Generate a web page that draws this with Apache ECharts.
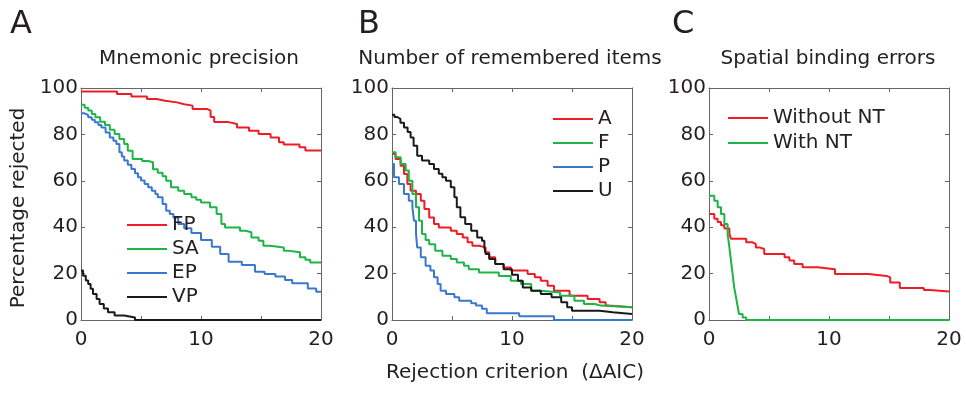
<!DOCTYPE html>
<html>
<head>
<meta charset="utf-8">
<script src="https://cdn.jsdelivr.net/npm/echarts@6/dist/echarts.min.js"></script>
<style>html,body{margin:0;padding:0;background:#fff}#c{width:966px;height:393px}</style>
</head>
<body>
<div id="c"></div>
<script>
// ---- Data (x = rejection criterion ΔAIC, y = percentage rejected) ----
const panelTitles = ["Mnemonic precision", "Number of remembered items", "Spatial binding errors"];
const panelLetters = ["A", "B", "C"];
const xTicks = [0, 10, 20];
const yTicks = [0, 20, 40, 60, 80, 100];

// Panel A
const FP_x = [0, 3.0, 4.2, 5.5, 6.3, 7.0, 8.0, 8.6, 9.3, 10.5, 10.8, 11.1, 12.3, 13.0, 14.0, 14.8, 15.8, 16.5, 16.9, 18.2, 18.7, 20];
const FP_y = [98.5, 97.4, 96.3, 95.3, 94.5, 93.8, 93, 92.4, 91, 90.2, 87.5, 85.3, 84.5, 83, 81.6, 80.2, 78.7, 76.6, 75.6, 74.5, 73.1, 73.1];
const SA_x = [0, 0.3, 0.6, 0.9, 1.2, 1.6, 2.0, 2.4, 2.8, 3.2, 3.6, 3.9, 4.3, 5.1, 5.6, 6.0, 6.4, 6.8, 7.1, 7.5, 8.1, 8.6, 9.2, 9.6, 10.0, 10.75, 11.3, 11.7, 12.0, 13.25, 13.7, 14.2, 14.8, 15.2, 15.75, 16.9, 17.2, 18.25, 18.7, 19.1, 20];
const SA_y = [92.8, 91.5, 90.3, 88.8, 87.4, 85.5, 84, 82, 80.2, 78, 75.9, 73, 69.4, 68.5, 68, 65, 63.5, 62, 60, 57.2, 55.7, 54.3, 52.9, 51.8, 50.7, 48.6, 45.7, 41.4, 39.9, 38.5, 37.8, 35.6, 34.2, 32, 31.3, 29.9, 29.2, 27, 26, 24.8, 24.8];
const EP_x = [0, 0.3, 0.6, 0.9, 1.15, 1.45, 1.7, 2.05, 2.4, 2.7, 2.95, 3.2, 3.4, 3.6, 3.9, 4.2, 4.5, 4.75, 5.0, 5.3, 5.6, 5.9, 6.2, 6.4, 6.8, 7.1, 7.4, 7.7, 8.1, 8.6, 9.2, 10.0, 10.9, 11.6, 12.3, 13.4, 14.5, 15.3, 16.2, 17.0, 17.6, 18.9, 19.6, 20];
const EP_y = [89.1, 88.3, 87.4, 86.3, 85.2, 84.1, 83, 80.8, 78.7, 77.3, 75.9, 72.3, 70.5, 68.7, 66.9, 65.1, 63.3, 61.5, 60.1, 58.6, 57.2, 55.7, 54.3, 52.9, 50, 47.1, 45.7, 44.2, 41.4, 39.5, 37.5, 34.5, 31.6, 28.5, 25.1, 23.7, 20.8, 19.8, 18.7, 17.2, 15.8, 13.6, 12.2, 12.2];
const VP_x = [0, 0.17, 0.4, 0.6, 0.8, 1.0, 1.3, 1.55, 1.9, 2.25, 2.8, 3.6, 4.5, 20];
const VP_y = [21.3, 19.1, 17, 15.5, 13.5, 11.2, 9, 6.9, 5, 3.3, 1.9, 1.1, 0, 0];

// Panel B
const A_x = [0, 0.3, 0.72, 1.0, 1.28, 1.55, 2.0, 2.4, 2.7, 3.1, 3.5, 3.9, 4.9, 5.4, 5.9, 6.3, 6.7, 7.25, 7.8, 8.1, 8.6, 9.3, 9.9, 11.3, 11.9, 12.4, 12.97, 13.5, 14.8, 16.3, 17.3, 17.8, 18.0, 20];
const A_y = [71.6, 69.4, 66.5, 62.9, 58.6, 55.7, 54.3, 51.4, 47.8, 44.2, 41.4, 39.9, 38.5, 37.1, 35.6, 33.5, 32.0, 31.3, 29.2, 27, 24.1, 22.6, 21.3, 19.8, 18.4, 16.9, 14.8, 12.6, 10.5, 9.0, 7.6, 6.2, 5.5, 5.5];
const F_x = [0, 0.3, 0.72, 1.14, 1.4, 1.7, 2.0, 2.25, 2.5, 2.8, 3.1, 3.6, 4.2, 4.9, 5.4, 6.0, 6.4, 7.25, 8.9, 9.9, 10.75, 11.6, 12.4, 14.0, 15.2, 16.0, 16.9, 17.4, 20];
const F_y = [72.3, 70.1, 67.2, 64.4, 60, 54.3, 48.6, 42.8, 37.1, 34.5, 32.7, 29.9, 27.7, 26.3, 24.8, 23.4, 21.9, 20.5, 19, 16.9, 15.5, 12.6, 11.9, 10.5, 8.3, 6.9, 6.2, 5.5, 5.5];
const P_x = [0, 0.17, 0.58, 1.0, 1.4, 1.7, 1.83, 2.0, 2.1, 2.4, 2.8, 3.2, 3.5, 3.8, 4.05, 4.5, 5.2, 5.6, 6.6, 7.0, 7.5, 7.9, 10.6, 13.5, 20];
const P_y = [67.2, 61.5, 58.6, 54.3, 51.4, 48.6, 42.8, 37.1, 31.3, 27, 23.4, 21.3, 18.4, 15.5, 12.6, 11.2, 9.8, 8.3, 7.2, 6.2, 4.8, 2.9, 1.6, 0, 0];
const U_x = [0, 0.2, 0.44, 0.7, 1.0, 1.3, 1.55, 1.8, 2.1, 2.5, 3.1, 3.5, 3.9, 4.2, 4.5, 4.9, 5.2, 5.4, 5.7, 6.1, 6.6, 7.1, 7.5, 7.7, 7.8, 8.1, 8.6, 9.3, 10.0, 10.5, 10.9, 11.6, 12.4, 13.3, 14.1, 14.6, 15.0, 17.3, 18.4, 20];
const U_y = [88.5, 87.5, 86.7, 85, 83, 81, 78.7, 75.1, 70.8, 68.7, 67.2, 65.1, 63, 61.5, 60, 57.2, 52.9, 48.6, 44.3, 41.4, 38.5, 35.6, 34.2, 31.3, 28.5, 26.3, 24.1, 21.9, 19.5, 16.9, 14, 12.6, 11.2, 9.8, 7.6, 5.5, 4.0, 3.3, 2.6, 2.6];

// Panel C
const WithoutNT_x = [0, 0.44, 0.72, 1.0, 1.28, 1.7, 1.83, 3.1, 3.6, 3.9, 4.2, 4.6, 6.3, 6.7, 7.1, 7.8, 9.05, 10.5, 13.3, 14.8, 15.1, 15.9, 17.9, 18.4, 20];
const WithoutNT_y = [45.7, 43.6, 42.2, 40.8, 39.4, 37.1, 35, 33.5, 32.8, 31.3, 30.6, 28.5, 27, 25.6, 24.1, 22.7, 21.9, 19.8, 19, 18.4, 16.2, 13.8, 12.9, 12.3, 12.3];
const WithNT_x = [0, 0.44, 0.72, 1.0, 1.28, 1.55, 1.7, 1.83, 1.97, 2.1, 2.25, 2.4, 2.5, 2.8, 3.1, 20];
const WithNT_y = [53.6, 51.4, 48.6, 45.7, 41.4, 37.1, 31.3, 25.6, 19.8, 14, 9.8, 5.5, 2.6, 1.1, 0, 0];

// ---- Chart ----
const RED = '#ee1c25', GREEN = '#1db546', BLUE = '#3a78d0', BLACK = '#1a1a1a';
const FONT = 'DejaVu Sans';
const TXT = '#231f20';
const FRAME = '#666';

const grids = [
  {left: 81, top: 88, width: 240, height: 232},
  {left: 392, top: 88, width: 240, height: 232},
  {left: 709, top: 88, width: 240, height: 232}
];

const zip = (xs, ys) => xs.map((x, i) => [x, ys[i]]);

const xAxes = [], yAxes = [];
grids.forEach((g, i) => {
  const common = {
    type: 'value', gridIndex: i, min: 0, max: 20, interval: 5,
    axisLine: {show: true, onZero: false, lineStyle: {color: FRAME, width: 1}},
    axisTick: {show: true, inside: true, length: 4, lineStyle: {color: FRAME}},
    splitLine: {show: false}
  };
  xAxes.push(Object.assign({}, common, {
    position: 'bottom',
    axisLabel: {show: true, margin: 10, fontFamily: FONT, fontSize: 20, color: TXT,
      formatter: v => (xTicks.indexOf(v) >= 0 ? String(v) : '')}
  }));
  xAxes.push(Object.assign({}, common, {position: 'top', axisLabel: {show: false}}));
  const ycommon = {
    type: 'value', gridIndex: i, min: 0, max: 100, interval: 20,
    axisLine: {show: true, onZero: false, lineStyle: {color: FRAME, width: 1}},
    axisTick: {show: true, inside: true, length: 4, lineStyle: {color: FRAME}},
    splitLine: {show: false}
  };
  yAxes.push(Object.assign({}, ycommon, {
    position: 'left',
    axisLabel: {show: true, margin: 3, fontFamily: FONT, fontSize: 20, color: TXT,
      formatter: v => (yTicks.indexOf(v) >= 0 ? String(v) : '')}
  }));
  yAxes.push(Object.assign({}, ycommon, {position: 'right', axisLabel: {show: false}}));
});

function line(name, xs, ys, color, gi) {
  return {
    name, type: 'line', step: 'end', xAxisIndex: gi * 2, yAxisIndex: gi * 2,
    data: zip(xs, ys), showSymbol: false, symbol: 'none',
    lineStyle: {color, width: 2}, itemStyle: {color}, animation: false, clip: true
  };
}

const series = [
  line('FP', FP_x, FP_y, RED, 0),
  line('SA', SA_x, SA_y, GREEN, 0),
  line('EP', EP_x, EP_y, BLUE, 0),
  line('VP', VP_x, VP_y, BLACK, 0),
  line('A', A_x, A_y, RED, 1),
  line('F', F_x, F_y, GREEN, 1),
  line('P', P_x, P_y, BLUE, 1),
  line('U', U_x, U_y, BLACK, 1),
  line('Without NT', WithoutNT_x, WithoutNT_y, RED, 2),
  line('With NT', WithNT_x, WithNT_y, GREEN, 2)
];

function legend(names, left, top, gap) {
  return {
    data: names, left, top, orient: 'vertical', icon: 'rect',
    itemWidth: 40, itemHeight: 2, itemGap: gap, selectedMode: false,
    textStyle: {fontFamily: FONT, fontSize: 20, color: TXT, lineHeight: 24, padding: [0, 0, 0, 0]},
    padding: 0
  };
}

const graphic = [];
const letterX = [10, 358, 672];
const titleX = [199, 510, 828];
panelLetters.forEach((L, i) => {
  graphic.push({type: 'text', x: letterX[i], y: 25, style: {text: L, font: '32px "' + FONT + '"', fill: TXT, align: 'left', verticalAlign: 'middle'}});
  graphic.push({type: 'text', x: titleX[i], y: 59, style: {text: panelTitles[i], font: '20px "' + FONT + '"', fill: TXT, align: 'center', verticalAlign: 'middle'}});
});
graphic.push({type: 'text', x: 19, y: 208, rotation: Math.PI / 2, style: {text: 'Percentage rejected', font: '20px "' + FONT + '"', fill: TXT, align: 'center', verticalAlign: 'middle'}});
graphic.push({type: 'text', x: 515, y: 373, style: {text: 'Rejection criterion  (\u0394AIC)', font: '20px "' + FONT + '"', fill: TXT, align: 'center', verticalAlign: 'middle'}});

const chart = echarts.init(document.getElementById('c'), null, {renderer: 'canvas'});
chart.setOption({
  animation: false,
  backgroundColor: '#fff',
  grid: grids,
  xAxis: xAxes,
  yAxis: yAxes,
  legend: [
    legend(['FP', 'SA', 'EP', 'VP'], 127, 213, 0),
    legend(['A', 'F', 'P', 'U'], 553, 107, 0),
    legend(['Without NT', 'With NT'], 728, 106, 1)
  ],
  series,
  graphic
});
</script>
</body>
</html>
